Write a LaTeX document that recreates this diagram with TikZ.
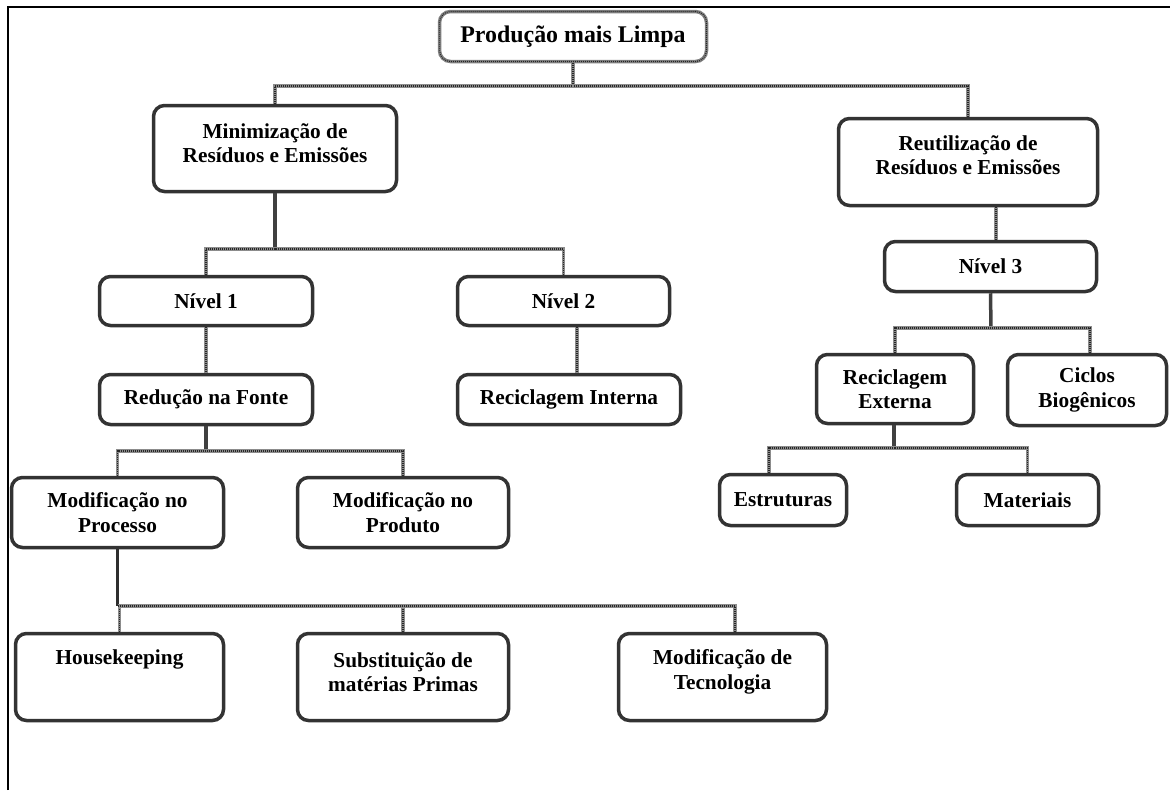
\documentclass[tikz,border=0pt]{standalone}
\usepackage{fontspec}
\setmainfont{Liberation Serif}
\begin{document}
\begin{tikzpicture}[x=1pt,y=-1pt,
  box/.style={draw=black!80, line width=3.5pt, rounded corners=11pt, fill=white, align=center,
    font=\fontsize{21.3}{24.5}\selectfont\bfseries, inner sep=2pt},
  topbox/.style={box, draw=black!50,
    postaction={draw=black!85, line width=1.2pt, dash pattern=on 0.8pt off 1.2pt},
    font=\fontsize{23.9}{27}\selectfont\bfseries},
  conn/.style={draw=black!45, line width=3.5pt,
    postaction={draw=black!85, line width=1.2pt, dash pattern=on 0.8pt off 1.2pt}},
  connD/.style={draw=black!75, line width=3.5pt},
  frame/.style={draw=black, line width=1.8pt}]
\useasboundingbox (0,0) rectangle (1170,790);
\draw[frame] (8,790) -- (8,7) -- (1170,7);

\node[topbox, minimum width=267, minimum height=50] (top) at (573,36.5) {Produção mais Limpa};
\node[box, minimum width=243, minimum height=86, text depth=11pt] (mini) at (275,148.5) {Minimização de\\Resíduos e Emissões};
\node[box, minimum width=259, minimum height=87, text depth=14pt] (reut) at (968,162) {Reutilização de\\Resíduos e Emissões};
\node[box, minimum width=213, minimum height=49] (n1) at (206,301) {Nível 1};
\node[box, minimum width=212, minimum height=49] (n2) at (563.5,301) {Nível 2};
\node[box, minimum width=212, minimum height=50] (n3) at (990.5,266.5) {Nível 3};
\node[box, minimum width=213, minimum height=50] (red) at (206,399.5) {Redução na Fonte};
\node[box, minimum width=223, minimum height=50] (recI) at (569,399.5) {Reciclagem Interna};
\node[box, minimum width=157, minimum height=69] (recE) at (895,389) {Reciclagem\\Externa};
\node[box, minimum width=159, minimum height=71] (cic) at (1087,390) {Ciclos\\Biogênicos};
\node[box, minimum width=127, minimum height=51] (estr) at (783,500) {Estruturas};
\node[box, minimum width=142, minimum height=51] (mat) at (1027.5,500) {Materiais};
\node[box, minimum width=212, minimum height=70] (modP) at (117.5,512.5) {Modificação no\\Processo};
\node[box, minimum width=211, minimum height=70] (modPr) at (403,512.5) {Modificação no\\Produto};
\node[box, minimum width=208, minimum height=87, text depth=40pt] (hk) at (119.5,677) {Housekeeping};
\node[box, minimum width=211, minimum height=87, text depth=10pt] (sub) at (403,677) {Substituição de\\matérias Primas};
\node[box, minimum width=208, minimum height=87, text depth=15pt] (tec) at (722.5,677) {Modificação de\\Tecnologia};

\coordinate (j1) at (573,86);
\draw[conn] (top.south) -- (j1);
\draw[conn] (mini.north) |- (j1);
\draw[conn] (reut.north) |- (j1);

\coordinate (j2) at (275,249);
\draw[connD] (mini.south) -- (j2);
\draw[conn] (n1.north) |- (j2);
\draw[conn] (n2.north) |- (j2);
\draw[conn] (n1.south) -- (red.north);
\draw[conn] ([xshift=13.5pt]n2.south) -- ([xshift=8pt]recI.north);

\draw[conn] ([xshift=5.5pt]n3.north) -- ([xshift=28pt]reut.south);
\coordinate (j3) at (991,328);
\draw[connD] (n3.south) -- (j3);
\draw[conn] (recE.north) |- (j3);
\draw[conn] ([xshift=3pt]cic.north) |- (j3);

\coordinate (j4) at (894,448);
\draw[connD] ([xshift=-1pt]recE.south) -- (j4);
\draw[conn] ([xshift=-14pt]estr.north) |- (j4);
\draw[conn] (mat.north) |- (j4);

\coordinate (j5) at (206,451);
\draw[connD] (red.south) -- (j5);
\draw[conn] (modP.north) |- (j5);
\draw[conn] (modPr.north) |- (j5);

\coordinate (j6) at (117.5,606);
\draw[connD, draw=black!82] (modP.south) -- (j6);
\draw[conn] (hk.north) |- (j6);
\draw[conn] (sub.north) |- (j6);
\draw[conn] ([xshift=12.5pt]tec.north) |- (j6);
\end{tikzpicture}
\end{document}
